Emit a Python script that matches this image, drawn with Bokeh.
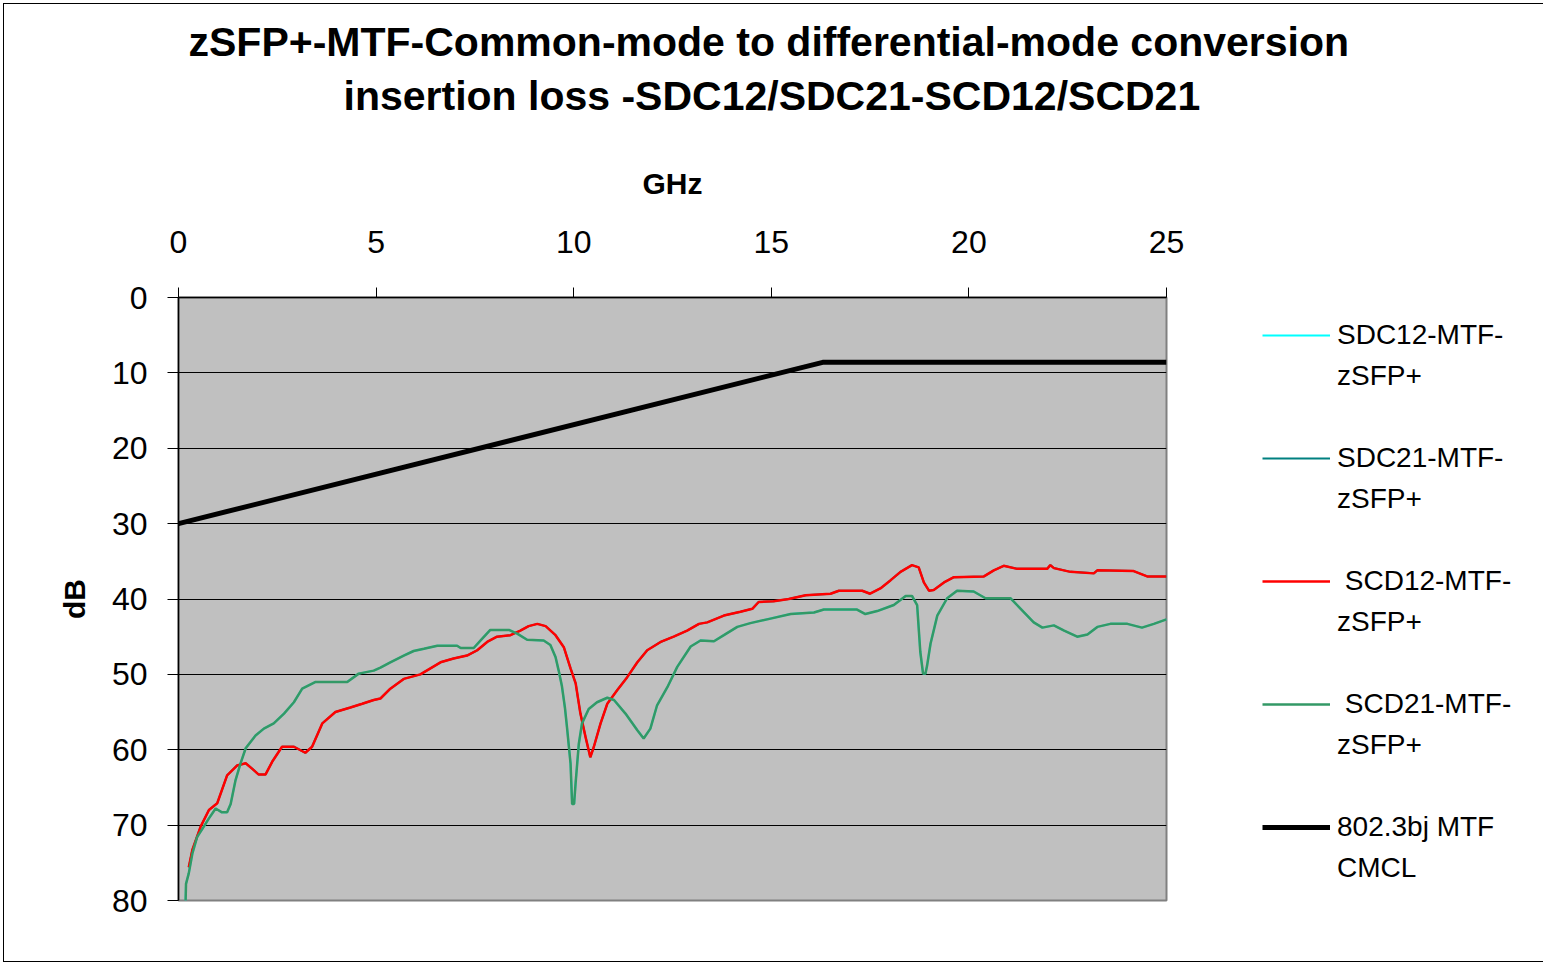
from bokeh.plotting import figure
from bokeh.models import Range1d, FixedTicker, Legend, LegendItem, Title
from bokeh.embed import file_html
from bokeh.resources import INLINE

TITLE_1 = "zSFP+-MTF-Common-mode to differential-mode conversion"
TITLE_2 = "insertion loss -SDC12/SDC21-SCD12/SCD21"
X_LABEL = "GHz"
Y_LABEL = "dB"
X_TICKS = [0, 5, 10, 15, 20, 25]
Y_TICKS = [0, 10, 20, 30, 40, 50, 60, 70, 80]

# 802.3bj MTF CMCL limit (GHz, dB)
cmcl = [(0.0, 30.0), (16.3, 8.6), (25.0, 8.6)]

# SCD12-MTF-zSFP+ (GHz, dB)
scd12 = [
    (0.26, 75.6), (0.35, 73.3), (0.56, 70.2), (0.77, 68.0), (0.98, 67.1),
    (1.23, 63.4), (1.48, 62.1), (1.70, 61.8), (1.86, 62.5), (2.03, 63.3),
    (2.20, 63.3), (2.37, 61.6), (2.62, 59.6), (2.92, 59.6), (3.21, 60.4),
    (3.38, 59.6), (3.64, 56.5), (3.97, 55.0), (4.35, 54.4), (4.65, 53.9),
    (4.94, 53.4), (5.11, 53.2), (5.36, 51.9), (5.70, 50.6), (6.12, 50.0),
    (6.63, 48.4), (6.96, 47.9), (7.30, 47.5), (7.56, 46.8), (7.81, 45.7),
    (8.06, 45.0), (8.40, 44.8), (8.65, 44.2), (8.86, 43.6), (9.08, 43.3),
    (9.29, 43.6), (9.54, 44.8), (9.75, 46.4), (9.92, 49.2), (10.05, 51.2),
    (10.17, 55.2), (10.30, 58.3), (10.42, 61.0), (10.51, 59.6), (10.68, 56.5),
    (10.85, 53.9), (11.10, 52.1), (11.35, 50.4), (11.61, 48.4), (11.86, 46.8),
    (12.20, 45.7), (12.53, 45.0), (12.87, 44.2), (13.17, 43.3), (13.38, 43.1),
    (13.80, 42.2), (14.22, 41.7), (14.52, 41.3), (14.68, 40.4), (15.06, 40.3),
    (15.44, 40.0), (15.87, 39.5), (16.50, 39.3), (16.71, 38.9), (17.30, 38.9),
    (17.50, 39.3), (17.76, 38.6), (18.02, 37.5), (18.27, 36.4), (18.56, 35.5),
    (18.73, 35.8), (18.86, 37.8), (18.99, 38.9), (19.11, 38.8), (19.37, 37.8),
    (19.62, 37.1), (20.38, 37.0), (20.63, 36.2), (20.88, 35.6), (21.22, 36.0),
    (21.98, 36.0), (22.06, 35.5), (22.15, 35.9), (22.57, 36.4), (23.16, 36.6),
    (23.25, 36.2), (24.17, 36.3), (24.51, 37.0), (25.00, 37.0),
]

# SCD21-MTF-zSFP+ (GHz, dB)
scd21 = [
    (0.18, 80.0), (0.19, 77.8), (0.26, 76.4), (0.35, 73.8), (0.47, 71.6),
    (0.64, 70.2), (0.77, 69.1), (0.94, 67.8), (1.10, 68.3), (1.23, 68.3),
    (1.32, 67.2), (1.44, 64.1), (1.57, 61.8), (1.70, 59.8), (1.95, 58.1),
    (2.16, 57.2), (2.41, 56.5), (2.67, 55.2), (2.92, 53.7), (3.13, 51.9),
    (3.47, 51.0), (4.27, 51.0), (4.56, 49.9), (4.94, 49.5), (5.11, 49.1),
    (5.36, 48.4), (5.70, 47.5), (5.95, 46.9), (6.21, 46.6), (6.55, 46.2),
    (7.05, 46.2), (7.14, 46.5), (7.47, 46.5), (7.68, 45.3), (7.89, 44.1),
    (8.36, 44.1), (8.57, 44.6), (8.82, 45.4), (9.24, 45.5), (9.41, 46.1),
    (9.54, 47.7), (9.62, 49.5), (9.70, 51.5), (9.78, 54.5), (9.83, 57.0),
    (9.92, 61.8), (9.96, 67.2), (10.01, 67.2), (10.05, 64.3), (10.13, 59.2),
    (10.21, 56.5), (10.38, 54.6), (10.59, 53.7), (10.85, 53.1), (11.02, 53.4),
    (11.31, 55.2), (11.61, 57.4), (11.77, 58.5), (11.94, 57.2), (12.11, 54.1),
    (12.37, 51.7), (12.62, 49.0), (12.96, 46.3), (13.21, 45.5), (13.55, 45.6),
    (13.80, 44.8), (14.14, 43.7), (14.47, 43.2), (14.98, 42.6), (15.49, 42.0),
    (16.08, 41.8), (16.33, 41.4), (17.17, 41.4), (17.38, 42.0), (17.68, 41.6),
    (18.10, 40.8), (18.40, 39.6), (18.56, 39.6), (18.69, 40.8), (18.77, 47.0),
    (18.84, 49.9), (18.90, 49.9), (18.94, 48.9), (19.03, 45.9), (19.20, 42.2),
    (19.45, 39.9), (19.70, 38.9), (20.12, 39.0), (20.42, 39.9), (21.05, 39.9),
    (21.31, 41.3), (21.64, 43.1), (21.86, 43.8), (22.15, 43.5), (22.41, 44.2),
    (22.74, 45.0), (23.00, 44.7), (23.25, 43.7), (23.58, 43.3), (24.01, 43.3),
    (24.38, 43.8), (24.68, 43.3), (25.00, 42.7),
]

# SDC12 / SDC21 traces coincide with (and are hidden under) the SCD traces
# of the reciprocal network: SDC12 = SCD21, SDC21 = SCD12
sdc12 = list(scd21)
sdc21 = list(scd12)

LEGEND_LINE1 = ["SDC12-MTF-", "SDC21-MTF-", " SCD12-MTF-", " SCD21-MTF-", "802.3bj MTF"]
LEGEND_LINE2 = ["zSFP+", "zSFP+", "zSFP+", "zSFP+", "CMCL"]

FONT = "Liberation Sans"

p = figure(
    width=1536, height=957,
    frame_width=988, frame_height=603,
    x_range=Range1d(0, 25), y_range=Range1d(80, 0),
    x_axis_location="above",
    output_backend="svg", toolbar_location=None,
    min_border_left=174, min_border_right=374,
    min_border_top=293, min_border_bottom=61,
)
p.styles = {"border": "1px solid black", "margin-left": "3px", "margin-top": "3px"}
p.title.text = ""
p.title.visible = False

p.background_fill_color = "#C0C0C0"
p.border_fill_color = "white"
p.outline_line_color = "#808080"
p.outline_line_width = 2

p.xgrid.visible = False
p.ygrid.ticker = FixedTicker(ticks=Y_TICKS)
p.ygrid.grid_line_color = "black"
p.ygrid.grid_line_width = 1

for ax in (p.xaxis[0], p.yaxis[0]):
    ax.axis_line_color = "black"
    ax.axis_line_width = 1.5
    ax.major_tick_line_color = "black"
    ax.major_tick_line_width = 1
    ax.major_tick_in = 0
    ax.minor_tick_in = 0
    ax.minor_tick_out = 0
    ax.major_label_text_font = FONT
    ax.major_label_text_font_size = "32px"
    ax.major_label_text_color = "black"
    ax.axis_label_text_font = FONT
    ax.axis_label_text_font_size = "30px"
    ax.axis_label_text_font_style = "bold"
    ax.axis_label_text_color = "black"

p.xaxis.ticker = FixedTicker(ticks=X_TICKS)
p.xaxis.major_tick_out = 10
p.xaxis.axis_label = X_LABEL
p.xaxis.major_label_standoff = 35
p.xaxis.axis_label_standoff = 28

p.yaxis.ticker = FixedTicker(ticks=Y_TICKS)
p.yaxis.major_tick_out = 11
p.yaxis.axis_label = Y_LABEL
p.yaxis.major_label_standoff = 20
p.yaxis.axis_label_standoff = 18

def xs(data):
    return [d[0] for d in data]

def ys(data):
    return [d[1] for d in data]

r_sdc12 = p.line(xs(sdc12), ys(sdc12), line_color="#00FFFF", line_width=2)
r_sdc21 = p.line(xs(sdc21), ys(sdc21), line_color="#008080", line_width=2)
r_scd12 = p.line(xs(scd12), ys(scd12), line_color="#FF0000", line_width=2.5)
r_scd21 = p.line(xs(scd21), ys(scd21), line_color="#339966", line_width=2.5)
r_cmcl = p.line(xs(cmcl), ys(cmcl), line_color="black", line_width=5)
r_blank = p.line([], [], line_alpha=0)

renderers = [r_sdc12, r_sdc21, r_scd12, r_scd21, r_cmcl]

items = []
for i, (l1, l2, r) in enumerate(zip(LEGEND_LINE1, LEGEND_LINE2, renderers)):
    items.append(LegendItem(label=l1, renderers=[r]))
    items.append(LegendItem(label=l2, renderers=[r_blank]))
    if i < len(renderers) - 1:
        items.append(LegendItem(label=" ", renderers=[r_blank]))

legend = Legend(
    items=items,
    location=(96, 15),
    orientation="vertical",
    padding=0, margin=0, spacing=7,
    glyph_width=68, glyph_height=34, label_height=34,
    label_standoff=7,
    label_text_font=FONT, label_text_font_size="28px",
    label_text_color="black",
    border_line_color=None, background_fill_alpha=0,
)
p.add_layout(legend, "right")

# spacer between the x axis and the title lines
p.add_layout(Title(text=" ", text_font_size="2px", standoff=38), "above")
p.add_layout(Title(text=TITLE_2, align="left", offset=165, text_font=FONT,
                   text_font_size="41px", text_font_style="bold",
                   text_color="black", standoff=6), "above")
p.add_layout(Title(text=TITLE_1, align="left", offset=10, text_font=FONT,
                   text_font_size="41px", text_font_style="bold",
                   text_color="black", standoff=6), "above")

open("out.html", "w").write(file_html(p, INLINE))
